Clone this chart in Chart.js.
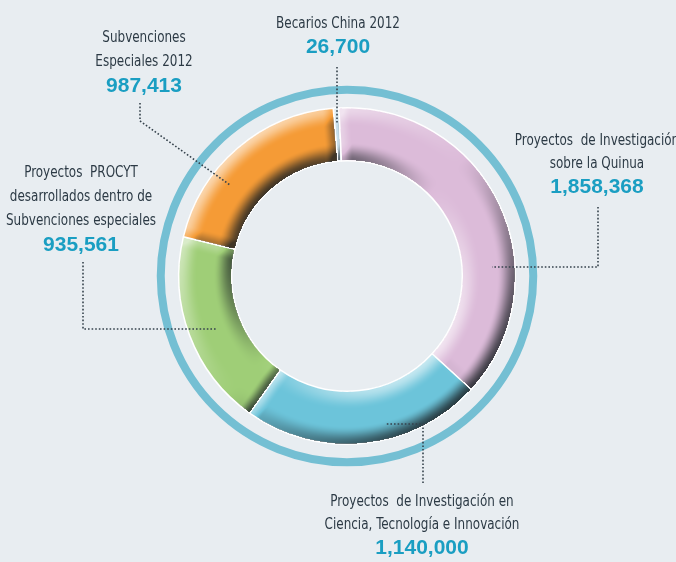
<!DOCTYPE html>
<html><head><meta charset="utf-8">
<script src="https://cdn.jsdelivr.net/npm/chart.js@4.4.1/dist/chart.umd.min.js"></script>
<style>
html,body{margin:0;padding:0;background:#e8edf1;}
#wrap{position:relative;width:676px;height:562px;overflow:hidden;background:#e8edf1;}
canvas{position:absolute;left:0;top:0;}
.ln{position:absolute;white-space:nowrap;transform:translateX(-50%) scaleX(0.86);transform-origin:50% 50%;text-align:center;font-family:"Liberation Sans Narrow","DejaVu Sans Condensed",sans-serif;font-size:15.5px;line-height:15px;color:#2c3a45;}
.val{position:absolute;white-space:nowrap;transform:translateX(-50%);text-align:center;font-family:"Liberation Sans",Arial,sans-serif;font-weight:bold;font-size:21px;line-height:21px;color:#1a9ec2;}
</style></head><body><div id="wrap"><canvas id="c" width="676" height="562"></canvas></div>
<script>
// ---- data ----
const categories = [
  "Becarios China 2012",
  "Proyectos de Investigación sobre la Quinua",
  "Proyectos de Investigación en Ciencia, Tecnología e Innovación",
  "Proyectos PROCYT desarrollados dentro de Subvenciones especiales",
  "Subvenciones Especiales 2012"
];
const labelLines = [
  ["Becarios China 2012"],
  ["Proyectos\u00a0 de Investigación", "sobre la Quinua"],
  ["Proyectos\u00a0 de Investigación en", "Ciencia, Tecnología e Innovación"],
  ["Proyectos\u00a0 PROCYT", "desarrollados dentro de", "Subvenciones especiales"],
  ["Subvenciones", "Especiales 2012"]
];
const values = [26700, 1858368, 1140000, 935561, 987413];
const colors = ["#c8e0ec", "#dcbbd9", "#6cc4da", "#9fce77", "#f59b36"];

// ---- layout (annotation positions) ----
const labelPos = [
  {x:338, base:[29], vbase:53},
  {x:597, base:[146,169], vbase:193},
  {x:422, base:[507,530], vbase:554},
  {x:81,  base:[178,202,226], vbase:251},
  {x:144, base:[43,67], vbase:92}
];
const leaders = [
  [[337,67],[337,123]],
  [[598,207],[598,267],[492,267]],
  [[423,483],[423,424],[385,424]],
  [[83,262],[83,329],[217,329]],
  [[140,103],[140,121],[230,185]]
];

const wrap = document.getElementById('wrap');
labelLines.forEach((lines, i) => {
  const p = labelPos[i];
  lines.forEach((t, k) => {
    const d = document.createElement('div');
    d.className = 'ln'; d.textContent = t;
    d.style.left = p.x + 'px'; d.style.top = (p.base[k] - 13) + 'px';
    wrap.appendChild(d);
  });
  const v = document.createElement('div');
  v.className = 'val'; v.textContent = values[i].toLocaleString('en-US');
  v.style.left = p.x + 'px'; v.style.top = (p.vbase - 18) + 'px';
  wrap.appendChild(v);
});

function smooth(a, b, x) { let t = (x - a) / (b - a); t = Math.max(0, Math.min(1, t)); return t * t * (3 - 2 * t); }

const decor = {
  id: 'decor',
  beforeDatasetsDraw(chart) {
    const a = chart.getDatasetMeta(0).data[0];
    const ctx = chart.ctx;
    ctx.save();
    ctx.beginPath();
    ctx.arc(a.x, a.y, a.outerRadius + 18, 0, Math.PI * 2);
    ctx.lineWidth = 8;
    ctx.strokeStyle = '#74bfd3';
    ctx.stroke();
    ctx.restore();
  },
  afterDatasetsDraw(chart) {
    const ctx = chart.ctx;
    const arcs = chart.getDatasetMeta(0).data.map(e => ({s:e.startAngle, e:e.endAngle}));
    const el = chart.getDatasetMeta(0).data[0];
    const cx = el.x, cy = el.y, ro = el.outerRadius, ri = el.innerRadius;
    const x0 = Math.floor(cx - ro - 2), y0 = Math.floor(cy - ro - 2), size = Math.ceil(2 * ro + 4);
    const img = ctx.getImageData(x0, y0, size, size);
    const d = img.data;
    const rm = (ro + ri) / 2, hw = (ro - ri) / 2;
    const Lx = -Math.SQRT1_2, Ly = -Math.SQRT1_2;
    const TAU = Math.PI * 2;
    for (let j = 0; j < size; j++) {
      for (let i = 0; i < size; i++) {
        const px = x0 + i + 0.5 - cx, py = y0 + j + 0.5 - cy;
        const r = Math.hypot(px, py);
        if (r < ri - 1 || r > ro + 1) continue;
        const idx = (j * size + i) * 4;
        if (d[idx + 3] === 0) continue;
        let R = d[idx], G = d[idx + 1], B = d[idx + 2];
        if (R > 232 && G > 232 && B > 232) continue;
        const th = Math.atan2(py, px);
        let arc = null, ang = 0;
        for (const A of arcs) {
          const aa = A.s + (((th - A.s) % TAU) + TAU) % TAU;
          if (aa <= A.e) { arc = A; ang = aa; break; }
        }
        if (!arc) continue;
        const ux = px / r, uy = py / r;
        let t = (r - rm) / hw; t = Math.max(-1, Math.min(1, t));
        const er = smooth(0.3, 1.0, Math.abs(t));
        const nr = Math.sign(t) * er;
        const ds = (ang - arc.s) * r, de = (arc.e - ang) * r, bw = 12;
        const ets = ds < bw ? smooth(0, 1, 1 - ds / bw) : 0;
        const ete = de < bw ? smooth(0, 1, 1 - de / bw) : 0;
        const nt = (ete - ets) * 0.8;
        const nx = nr * ux + nt * (-uy), ny = nr * uy + nt * ux;
        let dd = nx * Lx + ny * Ly;
        dd = Math.max(-1, Math.min(1, dd));
        if (dd < 0) {
          const k = 1 + dd * 0.82;
          R = R * k + 20 * (-dd); G = G * k + 25 * (-dd); B = B * k + 28 * (-dd);
        } else {
          const f = dd * 0.6;
          R += (255 - R) * f; G += (255 - G) * f; B += (255 - B) * f;
        }
        d[idx] = R; d[idx + 1] = G; d[idx + 2] = B;
      }
    }
    ctx.putImageData(img, x0, y0);
  },
  afterDraw(chart) {
    const ctx = chart.ctx;
    ctx.save();
    ctx.strokeStyle = '#35424c';
    ctx.lineWidth = 1.6;
    ctx.setLineDash([1.6, 2.0]);
    leaders.forEach(pts => {
      ctx.beginPath();
      ctx.moveTo(pts[0][0], pts[0][1]);
      for (let k = 1; k < pts.length; k++) ctx.lineTo(pts[k][0], pts[k][1]);
      ctx.stroke();
    });
    ctx.restore();
  }
};

new Chart(document.getElementById('c'), {
  type: 'doughnut',
  data: {
    labels: categories,
    datasets: [{
      data: values,
      backgroundColor: colors,
      borderColor: '#ffffff',
      borderWidth: 1.5,
      hoverOffset: 0
    }]
  },
  options: {
    responsive: false,
    devicePixelRatio: 1,
    animation: false,
    events: [],
    rotation: -4.7,
    cutout: '68.5%',
    layout: {padding: {left: 178, right: 160, top: 107, bottom: 117}},
    plugins: {legend: {display: false}, tooltip: {enabled: false}}
  },
  plugins: [decor]
});
</script>
</body></html>
